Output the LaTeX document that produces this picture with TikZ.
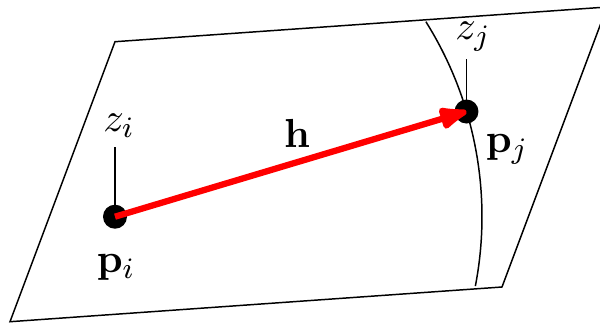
\documentclass[tikz,border=0pt]{standalone}
\usetikzlibrary{arrows.meta}
\begin{document}
\begin{tikzpicture}[x=0.27pt,y=0.27pt,
  plane/.style={line width=0.4pt,line join=miter},
  dotnode/.style={circle,fill=black,inner sep=0pt,minimum size=24*0.27pt},
  vec/.style={red,line width=1.7pt,-{Latex[length=10pt,width=7pt,round]}},
  stem/.style={line width=0.4pt},
  lbl/.style={inner sep=0pt,font=\fontsize{11}{13}\selectfont}]
\useasboundingbox (0,0) rectangle (600,322);
% plane corners
\coordinate (TL) at (115,280.3);
\coordinate (BL) at (10,0.3);
\coordinate (BR) at (502,35);
\coordinate (TR) at (607,315);
\draw[plane] (TL) -- (TR) -- (BR) -- (BL) -- cycle;
% points
\node[dotnode] (pi) at (115,105.3) {};
\node[dotnode] (pj) at (466.5,210.5) {};
% arc centred at p_i through p_j
\draw[stem] ([shift={(32.1:367)}]pi.center) arc[start angle=32.1,end angle=-10.9,radius=367];
% stems
\coordinate (zitop) at (115,175);
\coordinate (zjtop) at (466.5,263);
\draw[stem] (zitop) -- (pi.center);
\draw[stem] (zjtop) -- (pj.center);
% labels
\node[lbl] (zi) at (119,196) {$z_i$};
\node[lbl] (zj) at (473,285) {$z_j$};
\node[lbl] (pil) at (116,55) {$\mathbf{p}_i$};
\node[lbl] (pjl) at (507,173) {$\mathbf{p}_j$};
\node[lbl] (h) at (297,189) {$\mathbf{h}$};
% vector h
\draw[vec] (pi.center) -- (pj.center);
\end{tikzpicture}
\end{document}
